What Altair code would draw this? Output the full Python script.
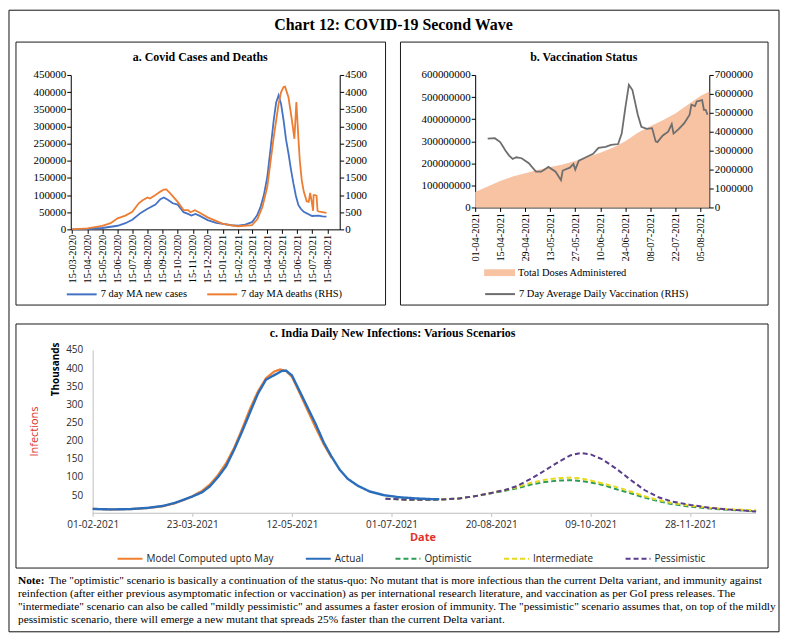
import altair as alt
import pandas as pd

SERIF = "Liberation Serif"
SANS = "Open Sans"

# ---------------- Panel a: Covid cases and deaths ----------------
a_case_dates = ["2020-03-15", "2020-04-15", "2020-05-15", "2020-06-15", "2020-07-01", "2020-07-15",
                "2020-08-01", "2020-08-15", "2020-08-31", "2020-09-10", "2020-09-17", "2020-09-25",
                "2020-10-05", "2020-10-15", "2020-10-27", "2020-11-05", "2020-11-12", "2020-11-20",
                "2020-11-28", "2020-12-15", "2021-01-01", "2021-01-15", "2021-02-01", "2021-02-15",
                "2021-03-01", "2021-03-15", "2021-03-25", "2021-04-01", "2021-04-08", "2021-04-15",
                "2021-04-22", "2021-04-28", "2021-05-03", "2021-05-08", "2021-05-13", "2021-05-18",
                "2021-05-23", "2021-05-28", "2021-06-02", "2021-06-07", "2021-06-12", "2021-06-17",
                "2021-06-22", "2021-06-28", "2021-07-15", "2021-07-28", "2021-08-05", "2021-08-13"]
a_cases = [0, 1000, 4000, 10500, 18000, 28000,
           48000, 60000, 72000, 88000, 93000, 86000,
           76000, 72000, 50000, 45000, 40000, 45000,
           40000, 27000, 19000, 16000, 12000, 10500,
           14000, 21000, 40000, 64000, 100000, 153000,
           240000, 318000, 370000, 391000, 365000, 318000,
           262000, 221000, 175000, 134000, 98000, 71000,
           60000, 51000, 39000, 40000, 38000, 37000]
a_death_dates = ["2020-03-15", "2020-04-15", "2020-05-15", "2020-06-01", "2020-06-15", "2020-07-01",
                 "2020-07-15", "2020-07-28", "2020-08-05", "2020-08-15", "2020-08-20", "2020-08-31",
                 "2020-09-10", "2020-09-17", "2020-09-22", "2020-09-30", "2020-10-15", "2020-10-27",
                 "2020-11-05", "2020-11-10", "2020-11-19", "2020-11-27", "2020-12-15", "2021-01-15",
                 "2021-02-15", "2021-03-15", "2021-03-26", "2021-04-05", "2021-04-15", "2021-04-28",
                 "2021-05-08", "2021-05-13", "2021-05-18", "2021-05-21", "2021-05-28", "2021-06-04",
                 "2021-06-09", "2021-06-13", "2021-06-17", "2021-06-20", "2021-06-24", "2021-06-28",
                 "2021-07-04", "2021-07-08", "2021-07-11", "2021-07-14", "2021-07-17", "2021-07-18",
                 "2021-07-21", "2021-07-24", "2021-07-26", "2021-07-28", "2021-08-05", "2021-08-13"]
a_deaths = [0, 30, 100, 180, 320, 400,
            510, 760, 850, 930, 900, 1000,
            1100, 1160, 1165, 1050, 800, 560,
            560, 500, 560, 500, 350, 160,
            90, 120, 300, 650, 1240, 2690,
            3660, 4000, 4150, 4160, 3850, 3180,
            2640, 3710, 2690, 2000, 1430, 1100,
            820, 800, 1060, 820, 540, 1000,
            1000, 980, 540, 520, 500, 480]
a_ticks = ["2020-03-15", "2020-04-15", "2020-05-15", "2020-06-15", "2020-07-15", "2020-08-15",
           "2020-09-15", "2020-10-15", "2020-11-15", "2020-12-15", "2021-01-15", "2021-02-15",
           "2021-03-15", "2021-04-15", "2021-05-15", "2021-06-15", "2021-07-15", "2021-08-15"]
a_series = ["7 day MA new cases", "7 day MA deaths  (RHS)"]
a_left_ticks = [0, 50000, 100000, 150000, 200000, 250000, 300000, 350000, 400000, 450000]
a_right_ticks = [0, 500, 1000, 1500, 2000, 2500, 3000, 3500, 4000, 4500]

# ---------------- Panel b: Vaccination status ----------------
b_dose_dates = ["2021-04-01", "2021-04-08", "2021-04-15", "2021-04-22", "2021-04-29", "2021-05-06",
                "2021-05-13", "2021-05-20", "2021-05-27", "2021-06-03", "2021-06-10", "2021-06-17",
                "2021-06-24", "2021-07-01", "2021-07-08", "2021-07-15", "2021-07-22", "2021-07-29",
                "2021-08-05", "2021-08-10"]
b_doses = [70000000, 95000000, 120000000, 140000000, 155000000, 170000000,
           183000000, 195000000, 210000000, 228000000, 248000000, 270000000,
           300000000, 338000000, 368000000, 395000000, 425000000, 465000000,
           505000000, 525000000]
b_vacc_dates = ["2021-04-08", "2021-04-12", "2021-04-15", "2021-04-18", "2021-04-20", "2021-04-22",
                "2021-04-24", "2021-04-27", "2021-05-01", "2021-05-05", "2021-05-08", "2021-05-12",
                "2021-05-16", "2021-05-19", "2021-05-20", "2021-05-24", "2021-05-26", "2021-05-27",
                "2021-05-29", "2021-06-02", "2021-06-06", "2021-06-09", "2021-06-13", "2021-06-16",
                "2021-06-20", "2021-06-22", "2021-06-24", "2021-06-26", "2021-06-28", "2021-07-01",
                "2021-07-03", "2021-07-06", "2021-07-09", "2021-07-11", "2021-07-12", "2021-07-15",
                "2021-07-18", "2021-07-20", "2021-07-21", "2021-07-24", "2021-07-27", "2021-07-30",
                "2021-07-31", "2021-08-02", "2021-08-03", "2021-08-06", "2021-08-07", "2021-08-08",
                "2021-08-09"]
b_vacc = [3640000, 3660000, 3450000, 3000000, 2740000, 2560000,
          2650000, 2600000, 2340000, 1890000, 1890000, 2140000,
          1890000, 1440000, 1950000, 2100000, 2300000, 2000000,
          2470000, 2650000, 2830000, 3150000, 3200000, 3300000,
          3350000, 3900000, 5250000, 6480000, 6200000, 4900000,
          4260000, 4150000, 4190000, 3490000, 3450000, 3800000,
          4000000, 4400000, 3900000, 4150000, 4450000, 4900000,
          5430000, 5350000, 5600000, 5670000, 5160000, 5160000,
          4900000]
b_ticks = ["2021-04-01", "2021-04-15", "2021-04-29", "2021-05-13", "2021-05-27", "2021-06-10",
           "2021-06-24", "2021-07-08", "2021-07-22", "2021-08-05"]
b_left_ticks = [0, 100000000, 200000000, 300000000, 400000000, 500000000, 600000000]
b_right_ticks = [0, 1000000, 2000000, 3000000, 4000000, 5000000, 6000000, 7000000]

# ---------------- Panel c: scenarios (thousands) ----------------
c_model_dates = ["2021-02-01", "2021-02-10", "2021-02-20", "2021-03-01", "2021-03-08", "2021-03-14",
                 "2021-03-19", "2021-03-23", "2021-03-28", "2021-04-01", "2021-04-05", "2021-04-09",
                 "2021-04-13", "2021-04-17", "2021-04-21", "2021-04-25", "2021-04-29", "2021-05-03",
                 "2021-05-06", "2021-05-09", "2021-05-12", "2021-05-16", "2021-05-20", "2021-05-24",
                 "2021-05-28", "2021-06-01"]
c_model = [12, 10.5, 11.5, 14.5, 19, 27, 37, 47, 62, 80, 106, 138, 180, 232, 288, 336, 372, 390,
           396, 392, 376, 330, 282, 235, 190, 152]
c_actual_dates = ["2021-02-01", "2021-02-10", "2021-02-20", "2021-03-01", "2021-03-08", "2021-03-14",
                  "2021-03-19", "2021-03-23", "2021-03-28", "2021-04-01", "2021-04-05", "2021-04-09",
                  "2021-04-13", "2021-04-17", "2021-04-21", "2021-04-25", "2021-04-29", "2021-05-03",
                  "2021-05-07", "2021-05-09", "2021-05-12", "2021-05-16", "2021-05-20", "2021-05-24",
                  "2021-05-28", "2021-06-01", "2021-06-05", "2021-06-09", "2021-06-14", "2021-06-20",
                  "2021-06-27", "2021-07-05", "2021-07-13", "2021-07-21", "2021-07-25"]
c_actual = [12, 10.5, 11.5, 15, 20, 28, 38, 46, 58, 75, 100, 130, 175, 225, 278, 330, 368, 380,
            392, 393, 380, 335, 290, 245, 195, 155, 120, 95, 76, 60, 50, 44, 41, 39, 39]
c_scen_dates = ["2021-06-28", "2021-07-10", "2021-07-22", "2021-08-03", "2021-08-13", "2021-08-20",
                "2021-08-27", "2021-09-02", "2021-09-09", "2021-09-16", "2021-09-23", "2021-09-29",
                "2021-10-04", "2021-10-09", "2021-10-15", "2021-10-22", "2021-10-29", "2021-11-05",
                "2021-11-12", "2021-11-19", "2021-11-28", "2021-12-08", "2021-12-18", "2021-12-31"]
c_opt = [40, 37, 37, 40, 48, 55, 62, 69, 79, 86, 90, 91, 89, 85, 78, 66, 55, 43, 33, 25, 18, 13, 9, 6]
c_int = [40, 37, 37, 40, 48, 56, 64, 72, 84, 92, 97, 98, 96, 90, 82, 72, 60, 47, 36, 28, 21, 15, 11, 8]
c_pes = [40, 37, 37, 40, 48, 56, 64, 75, 95, 118, 142, 160, 166, 162, 148, 122, 92, 64, 44, 32, 23, 15, 10, 5]
c_series = ["Model Computed upto May", "Actual", "Optimistic", "Intermediate", "Pessimistic"]
c_colors = ["#F07F2E", "#2A6EBB", "#2E9B57", "#E6DA1A", "#5A3D8A"]
c_ticks = ["2021-02-01", "2021-03-23", "2021-05-12", "2021-07-01", "2021-08-20", "2021-10-09", "2021-11-28"]
c_left_ticks = [50, 100, 150, 200, 250, 300, 350, 400, 450]

note_lines = [
    'The "optimistic" scenario is basically a  continuation of the status-quo: No mutant that is more infectious than the current Delta variant, and immunity against',
    'reinfection (after either previous asymptomatic infection or vaccination) as per international research literature, and vaccination as per GoI press releases.  The',
    '"intermediate" scenario can also be called "mildly pessimistic" and assumes a faster erosion of immunity.  The "pessimistic" scenario assumes that, on top of the mildly',
    'pessimistic scenario, there will emerge a new mutant that spreads 25% faster than the current Delta variant.',
]


def dt(s):
    y, m, d = (int(p) for p in s.split("-"))
    return alt.DateTime(year=y, month=m, date=d, utc=True)


one = pd.DataFrame({"k": [0]})


def box(x, x2, y, y2, color="#1a1a1a"):
    return alt.Chart(one).mark_rect(fillOpacity=0, stroke=color, strokeWidth=1).encode(
        x=alt.value(x), x2=alt.value(x2), y=alt.value(y), y2=alt.value(y2))


def label(text, x, y, **kw):
    opts = dict(align="center", baseline="middle")
    opts.update(kw)
    return alt.Chart(one).mark_text(text=text, **opts).encode(x=alt.value(x), y=alt.value(y))


serif_axis = dict(labelFont=SERIF, labelColor="black", domainColor="black", tickColor="black",
                  tickSize=4, grid=False, title=None)

# ---------------- Panel a ----------------
A_W, A_H = 270, 155
df_ac = pd.DataFrame({"date": a_case_dates, "value": a_cases, "series": a_series[0]})
df_ad = pd.DataFrame({"date": a_death_dates, "value": a_deaths, "series": a_series[1]})
a_x = alt.X("date:T", scale=alt.Scale(type="utc", domain=[dt("2020-03-12"), dt("2021-09-09")]),
            axis=alt.Axis(values=[dt(s) for s in a_ticks], format="%d-%m-%Y", labelAngle=270,
                          labelFontSize=10.5, labelPadding=1, labelOverlap=False, labelFlush=False,
                          **serif_axis))
a_color = alt.Color("series:N", scale=alt.Scale(domain=a_series, range=["#4472C4", "#ED7D31"]),
                    legend=alt.Legend(title=None, orient="none", legendX=-5, legendY=204,
                                      direction="horizontal", symbolType="stroke", symbolSize=900,
                                      symbolStrokeWidth=2, labelFont=SERIF, labelFontSize=10.5,
                                      labelColor="black", labelOffset=3, columnPadding=15, padding=0,
                                      labelLimit=300))
a_cases_line = alt.Chart(df_ac).mark_line(strokeWidth=1.8).encode(
    x=a_x,
    y=alt.Y("value:Q", scale=alt.Scale(domain=[0, 450000], nice=False),
            axis=alt.Axis(orient="left", values=a_left_ticks, format="d", labelFontSize=11,
                          labelPadding=1, **serif_axis)),
    color=a_color)
a_deaths_line = alt.Chart(df_ad).mark_line(strokeWidth=1.8).encode(
    x=a_x,
    y=alt.Y("value:Q", scale=alt.Scale(domain=[0, 4500], nice=False),
            axis=alt.Axis(orient="right", values=a_right_ticks, format="d", labelFontSize=11,
                          labelPadding=1, **serif_axis)),
    color=a_color)
panel_a = alt.layer(
    box(-55, 316, -33, 231),
    label("a. Covid Cases and Deaths", 130, -18, font=SERIF, fontSize=12, fontWeight="bold"),
    a_cases_line, a_deaths_line,
).resolve_scale(y="independent").properties(width=A_W, height=A_H)

# ---------------- Panel b ----------------
B_W, B_H = 235, 133
df_bd = pd.DataFrame({"date": b_dose_dates, "value": b_doses, "series": "Total Doses Administered"})
df_bv = pd.DataFrame({"date": b_vacc_dates, "value": b_vacc,
                      "series": "7 Day Average Daily Vaccination (RHS)"})
b_x = alt.X("date:T", scale=alt.Scale(type="utc", domain=[dt("2021-04-01"), dt("2021-08-10")]),
            axis=alt.Axis(values=[dt(s) for s in b_ticks], format="%d-%m-%Y", labelAngle=270,
                          labelFontSize=10.5, labelPadding=1, labelOverlap=False, labelFlush=False,
                          **serif_axis))
b_area = alt.Chart(df_bd).mark_area(opacity=1).encode(
    x=b_x,
    y=alt.Y("value:Q", scale=alt.Scale(domain=[0, 600000000], nice=False),
            axis=alt.Axis(orient="left", values=b_left_ticks, format="d", labelFontSize=11,
                          labelPadding=1, **serif_axis)),
    fill=alt.Fill("series:N", scale=alt.Scale(range=["#F7C3A2"]),
                  legend=alt.Legend(title=None, orient="none", legendX=9, legendY=183,
                                    symbolType="M-1,-0.22H1V0.22H-1Z", symbolSize=961,
                                    symbolStrokeWidth=0, symbolOpacity=1, labelFont=SERIF,
                                    labelFontSize=10.5, labelColor="black", labelOffset=3, padding=0,
                                    labelLimit=300)))
b_line = alt.Chart(df_bv).mark_line(strokeWidth=1.8).encode(
    x=b_x,
    y=alt.Y("value:Q", scale=alt.Scale(domain=[0, 7000000], nice=False),
            axis=alt.Axis(orient="right", values=b_right_ticks, format="d", labelFontSize=11,
                          labelPadding=1, **serif_axis)),
    stroke=alt.Stroke("series:N", scale=alt.Scale(range=["#6E6E6E"]),
                      legend=alt.Legend(title=None, orient="none", legendX=9, legendY=204,
                                        symbolType="stroke", symbolSize=900, symbolStrokeWidth=2,
                                        labelFont=SERIF, labelFontSize=10.5, labelColor="black",
                                        labelOffset=3, padding=0, labelLimit=300)))
panel_b = alt.layer(
    box(-75, 294, -33, 231),
    label("b. Vaccination Status", 109, -18, font=SERIF, fontSize=12, fontWeight="bold"),
    b_area, b_line,
).resolve_scale(y="independent").properties(width=B_W, height=B_H)

# ---------------- Panel c ----------------
C_W, C_H = 688, 164
df_c = pd.concat([
    pd.DataFrame({"date": c_model_dates, "value": c_model, "series": c_series[0]}),
    pd.DataFrame({"date": c_actual_dates, "value": c_actual, "series": c_series[1]}),
    pd.DataFrame({"date": c_scen_dates, "value": c_opt, "series": c_series[2]}),
    pd.DataFrame({"date": c_scen_dates, "value": c_int, "series": c_series[3]}),
    pd.DataFrame({"date": c_scen_dates, "value": c_pes, "series": c_series[4]}),
], ignore_index=True)
df_c_axis = pd.DataFrame({"date": ["2021-02-01"], "date2": ["2021-12-31"], "value": [0]})

c_x = alt.X("date:T", scale=alt.Scale(type="utc", domain=[dt("2021-01-21"), dt("2021-12-31")]),
            axis=alt.Axis(values=[dt(s) for s in c_ticks], format="%d-%m-%Y", labelAngle=0,
                          domain=False, tickColor="#BFBFBF", tickSize=3, labelPadding=3,
                          labelFont=SANS, labelFontSize=10, labelColor="#2b2b2b", grid=False,
                          labelFlush=False, labelOverlap=False,
                          title="Date", titleColor="#E0312B", titleFont=SANS, titleFontSize=11,
                          titleFontWeight="bold", titleX=353, titleY=24, titleBaseline="middle"))
c_y = alt.Y("value:Q", scale=alt.Scale(domain=[0, 450], nice=False),
            axis=alt.Axis(values=c_left_ticks, offset=-22, domainColor="#BFBFBF", ticks=False,
                          labelPadding=10, labelFont=SANS, labelFontSize=10, labelColor="#2b2b2b",
                          grid=False, title="Thousands", titleX=-37, titleY=19, titleAngle=270,
                          titleFont=SANS, titleFontSize=10, titleFontWeight="bold",
                          titleColor="black", titleAlign="center", titleBaseline="middle"))
c_legend = alt.Legend(title=None, orient="none", legendX=46, legendY=196, direction="horizontal",
                      symbolType="stroke", symbolSize=625, symbolStrokeWidth=2, labelFont=SANS,
                      labelFontSize=10, labelColor="#222222", labelOffset=3, columnPadding=28,
                      padding=0, labelLimit=300)
c_color = alt.Color("series:N", scale=alt.Scale(domain=c_series, range=c_colors), legend=c_legend)
c_dash = alt.StrokeDash("series:N",
                        scale=alt.Scale(domain=c_series, range=[[1, 0], [1, 0], [5, 3], [5, 3], [5, 3]]),
                        legend=c_legend)

c_axis_rule = alt.Chart(df_c_axis).mark_rule(color="#BFBFBF", strokeWidth=1).encode(
    x=c_x, x2="date2:T", y=c_y)
c_scen = alt.Chart(df_c).transform_filter(
    alt.FieldOneOfPredicate(field="series", oneOf=c_series[2:])
).mark_line(strokeWidth=2).encode(x=c_x, y=c_y, color=c_color, strokeDash=c_dash)
c_model_line = alt.Chart(df_c).transform_filter(
    alt.FieldEqualPredicate(field="series", equal=c_series[0])
).mark_line(strokeWidth=2.2).encode(x=c_x, y=c_y, color=c_color, strokeDash=c_dash)
c_actual_line = alt.Chart(df_c).transform_filter(
    alt.FieldEqualPredicate(field="series", equal=c_series[1])
).mark_line(strokeWidth=2.4).encode(x=c_x, y=c_y, color=c_color, strokeDash=c_dash)

NOTE_FS = 11.4
note_layers = [label("Note:", -53, 232, font=SERIF, fontSize=NOTE_FS, fontWeight="bold", align="left"),
               label(note_lines[0], -22, 232, font=SERIF, fontSize=NOTE_FS, align="left")]
for i, line in enumerate(note_lines[1:]):
    note_layers.append(label(line, -53, 245 + 13.2 * i, font=SERIF, fontSize=NOTE_FS, align="left"))

panel_c = alt.layer(
    box(-62, 711, -341, 283, color="#111111"),
    label("Chart 12: COVID-19 Second Wave", 324, -326, font=SERIF, fontSize=16, fontWeight="bold"),
    box(-55, 700, -26, 219),
    label("c. India Daily New Infections: Various Scenarios", 323, -17, font=SERIF, fontSize=12,
          fontWeight="bold"),
    label("Infections", -36, 82, font=SANS, fontSize=11, color="#E0312B", angle=270),
    c_axis_rule, c_scen, c_model_line, c_actual_line,
    *note_layers,
).properties(width=C_W, height=C_H)

row = alt.hconcat(panel_a, panel_b, spacing=136, bounds="flush").resolve_scale(
    color="independent", fill="independent", stroke="independent", strokeDash="independent")
chart = alt.vconcat(row, panel_c, spacing=276, bounds="flush").resolve_scale(
    color="independent", fill="independent", stroke="independent", strokeDash="independent"
).properties(padding=0, background="white").configure_view(stroke=None)

chart.save("out.html", embed_options={"renderer": "svg", "actions": False})
